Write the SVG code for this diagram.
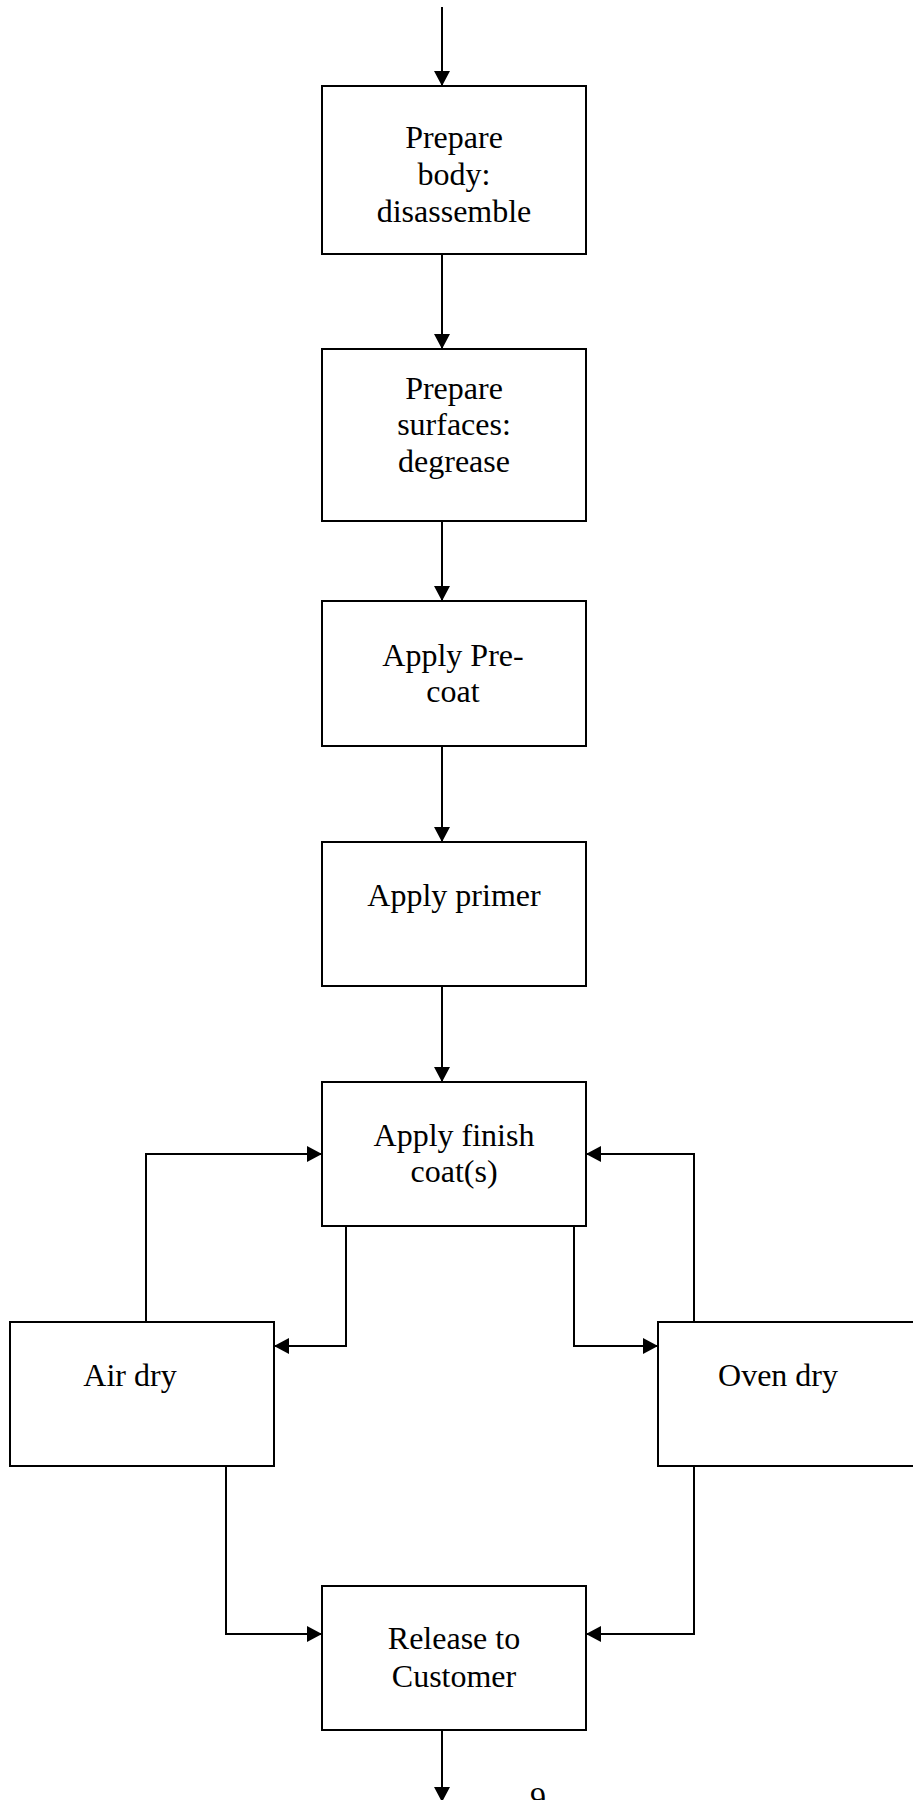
<svg xmlns="http://www.w3.org/2000/svg" width="913" height="1800" viewBox="0 0 913 1800">
<style>
.box{fill:#fff;stroke:#000;stroke-width:2}
.ln{fill:none;stroke:#000;stroke-width:2}
.t{font-family:"Liberation Serif","Times New Roman",serif;font-size:32px;fill:#000;text-anchor:middle}
</style>
<defs>
<marker id="ah" markerUnits="userSpaceOnUse" markerWidth="16" markerHeight="16" refX="15" refY="8" orient="auto">
<path d="M0,0 L15,8 L0,16 z" fill="#000"/>
</marker>
</defs>
<rect width="913" height="1800" fill="#fff"/>
<g id="connectors">
<path class="ln" d="M442,7 V86" marker-end="url(#ah)"/>
<path class="ln" d="M442,254 V349" marker-end="url(#ah)"/>
<path class="ln" d="M442,521 V601" marker-end="url(#ah)"/>
<path class="ln" d="M442,746 V842" marker-end="url(#ah)"/>
<path class="ln" d="M442,986 V1082" marker-end="url(#ah)"/>
<path class="ln" d="M146,1322 V1154 H322" marker-end="url(#ah)"/>
<path class="ln" d="M346,1226 V1346 H274" marker-end="url(#ah)"/>
<path class="ln" d="M694,1322 V1154 H586" marker-end="url(#ah)"/>
<path class="ln" d="M574,1226 V1346 H658" marker-end="url(#ah)"/>
<path class="ln" d="M226,1466 V1634 H322" marker-end="url(#ah)"/>
<path class="ln" d="M694,1466 V1634 H586" marker-end="url(#ah)"/>
<path class="ln" d="M442,1730 V1802" marker-end="url(#ah)"/>
</g>
<g id="n1"><rect class="box" x="322" y="86" width="264" height="168"/>
<text class="t" x="454" y="148">Prepare</text><text class="t" x="454" y="185">body:</text><text class="t" x="454" y="222">disassemble</text></g>
<g id="n2"><rect class="box" x="322" y="349" width="264" height="172"/>
<text class="t" x="454" y="399">Prepare</text><text class="t" x="454" y="435">surfaces:</text><text class="t" x="454" y="472">degrease</text></g>
<g id="n3"><rect class="box" x="322" y="601" width="264" height="145"/>
<text class="t" x="453" y="666">Apply Pre-</text><text class="t" x="453" y="702">coat</text></g>
<g id="n4"><rect class="box" x="322" y="842" width="264" height="144"/>
<text class="t" x="454" y="906">Apply primer</text></g>
<g id="n5"><rect class="box" x="322" y="1082" width="264" height="144"/>
<text class="t" x="454" y="1146">Apply finish</text><text class="t" x="454" y="1182">coat(s)</text></g>
<g id="n6"><rect class="box" x="10" y="1322" width="264" height="144"/>
<text class="t" x="130" y="1386">Air dry</text></g>
<g id="n7"><rect class="box" x="658" y="1322" width="264" height="144"/>
<text class="t" x="778" y="1386">Oven dry</text></g>
<g id="n8"><rect class="box" x="322" y="1586" width="264" height="144"/>
<text class="t" x="454" y="1649">Release to</text><text class="t" x="454" y="1687">Customer</text></g>
<text x="530" y="1809" style="font-family:'Liberation Serif','Times New Roman',serif;font-size:32px">9</text>
</svg>
